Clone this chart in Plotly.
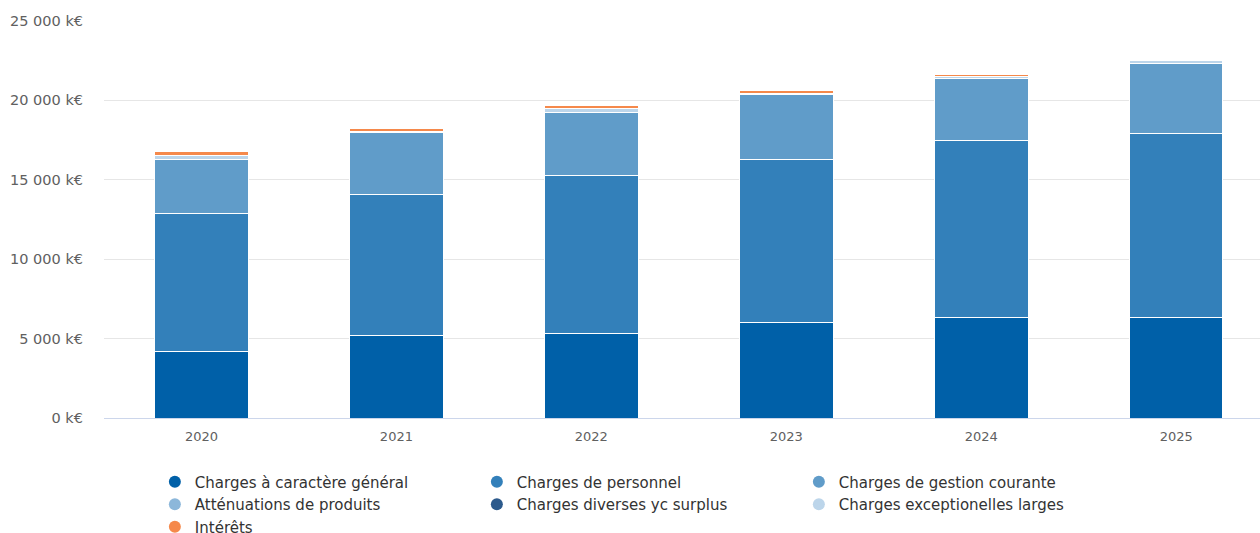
import plotly.graph_objects as go

years = ["2020", "2021", "2022", "2023", "2024", "2025"]
series_names = [
    "Charges à caractère général",
    "Charges de personnel",
    "Charges de gestion courante",
    "Atténuations de produits",
    "Charges diverses yc surplus",
    "Charges exceptionelles larges",
    "Intérêts",
]
charges_generales = [4200, 5200, 5300, 6000, 6300, 6300]
charges_personnel = [8650, 8900, 10000, 10300, 11200, 11600]
charges_gestion = [3400, 3850, 3950, 4050, 3850, 4450]
attenuations = [0, 0, 0, 0, 0, 0]
charges_diverses = [0, 0, 0, 0, 0, 0]
charges_exceptionnelles = [250, 80, 250, 100, 130, 170]
interets = [280, 230, 150, 150, 150, 0]
series_values = [charges_generales, charges_personnel, charges_gestion, attenuations,
                 charges_diverses, charges_exceptionnelles, interets]
colors = ["#0060a8", "#3380ba", "#609cc9", "#8cb7da", "#2c5a8c", "#bcd5ea", "#f5894b"]

tick_vals = [0, 5000, 10000, 15000, 20000, 25000]
tick_text = ["0 k€", "5 000 k€", "10 000 k€", "15 000 k€", "20 000 k€", "25 000 k€"]

fig = go.Figure()
for name, vals, col in zip(series_names, series_values, colors):
    fig.add_trace(go.Bar(
        x=years, y=vals, name=name, marker=dict(color=col, line=dict(color="white", width=1)),
        showlegend=False,
    ))
for name, col in zip(series_names, colors):
    fig.add_trace(go.Scatter(
        x=[None], y=[None], mode="markers", name=name,
        marker=dict(color=col, size=15, symbol="circle"), showlegend=True,
    ))

fig.update_layout(
    width=1260, height=533,
    barmode="stack", bargap=0.52,
    plot_bgcolor="white", paper_bgcolor="white",
    margin=dict(l=104, r=0, t=21, b=115, autoexpand=False),
    font=dict(family="DejaVu Sans", color="#333333"),
    xaxis=dict(
        type="category", range=[-0.5, 5.43], showgrid=False,
        showline=True, linecolor="#ccd6eb", linewidth=1,
        tickfont=dict(size=13, color="#606060"), ticks="",
        ticklabelstandoff=6,
    ),
    yaxis=dict(
        range=[0, 25000], tickvals=tick_vals, ticktext=tick_text,
        showgrid=True, gridcolor="#e6e6e6", gridwidth=1, zeroline=False,
        tickfont=dict(size=14.5, color="#606060"), ticklabelstandoff=20,
    ),
    legend=dict(
        orientation="h", x=0.044, xanchor="left", y=-0.1195, yanchor="top",
        entrywidth=277, entrywidthmode="pixels", itemsizing="constant",
        traceorder="normal",
        font=dict(size=15, color="#333333"), tracegroupgap=0,
        itemclick=False,
    ),
)

fig.write_html("out.html", config={"displayModeBar": False},
               post_script="document.body.style.margin='0px';")
